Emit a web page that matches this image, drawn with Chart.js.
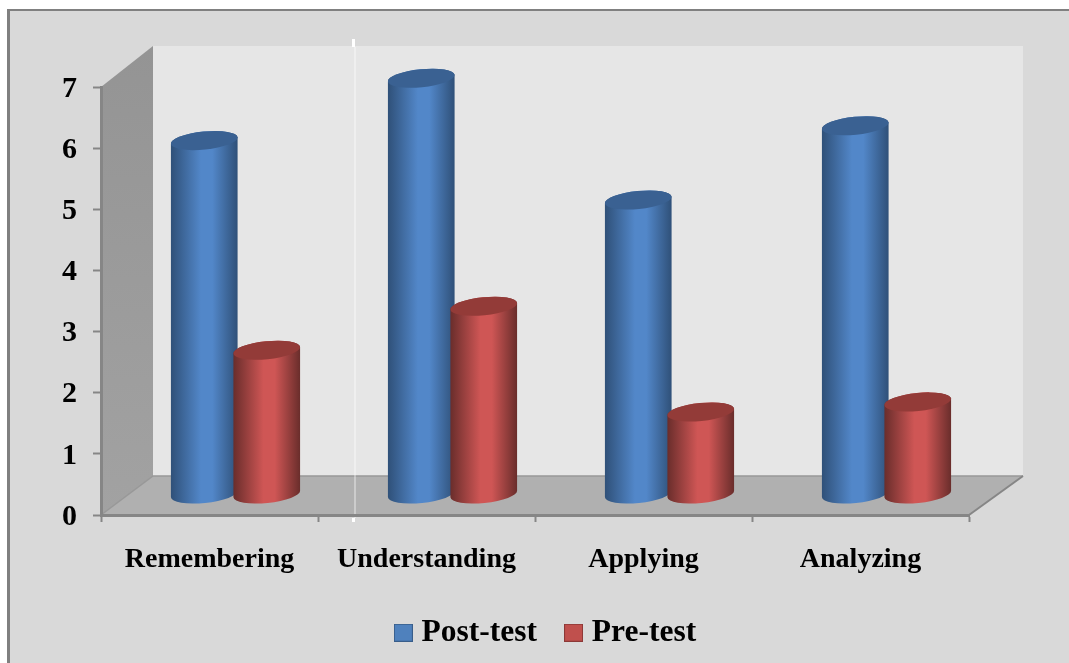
<!DOCTYPE html>
<html>
<head>
<meta charset="utf-8">
<style>
  html, body { margin: 0; padding: 0; background: #fff; }
  canvas { display: block; }
</style>
<script src="https://cdn.jsdelivr.net/npm/chart.js@4"></script>
</head>
<body>
<canvas id="grafica" width="1069" height="663"></canvas>
<script>
// datos
const categorias = ["Remembering", "Understanding", "Applying", "Analyzing"];
const postTest = [5.95, 7, 4.95, 6.2];
const preTest = [2.42, 3.16, 1.38, 1.55];
const ticksY = [0, 1, 2, 3, 4, 5, 6, 7];

const FUENTE = "'Liberation Serif', serif";
const EJE = "#868686";

// colores del cilindro segun la serie
const tonos = {
    "#4f81bd": { borde: "#2f5078", medio: "#5287c9", tapa: "#3a6192" },
    "#c0504d": { borde: "#692d2b", medio: "#cf5655", tapa: "#933b38" }
};

// cuadrito de la leyenda, se dibuja aparte para que quede pegado al texto
function iconoLeyenda(relleno, linea) {
    const c = document.createElement("canvas");
    c.width = 19;
    c.height = 18;
    const x = c.getContext("2d");
    x.fillStyle = relleno;
    x.fillRect(0, 0, 19, 18);
    x.strokeStyle = linea;
    x.lineWidth = 1;
    x.strokeRect(0.5, 0.5, 18, 17);
    return c;
}
const iconos = [iconoLeyenda("#4f81bd", "#385d8a"), iconoLeyenda("#c0504d", "#8c3836")];

// =======================================================
// PAREDES, PISO Y MARCO
// =======================================================
function poligono(ctx, puntos, color) {
    ctx.beginPath();
    puntos.forEach((p, i) => i ? ctx.lineTo(p[0], p[1]) : ctx.moveTo(p[0], p[1]));
    ctx.closePath();
    ctx.fillStyle = color;
    ctx.fill();
}

const fondo3d = {
    id: "fondo3d",
    afterLayout(chart) {
        // la leyenda va a la derecha del centro, como en el original
        chart.legend.left += 64;
        chart.legend.right += 64;
        chart.legend.top = 583;
        // los numeros del eje quedan un poco mas abajo que la marca
        chart.scales.y.getLabelItems().forEach(item => {
            const t = item.options.translation;
            item.options.translation = [t[0], t[1] + 2];
        });
    },
    beforeDraw(chart) {
        const ctx = chart.ctx;
        ctx.save();
        ctx.fillStyle = "#808080";
        ctx.fillRect(7, 9, 1062, 654);
        ctx.fillStyle = "#d9d9d9";
        ctx.fillRect(10, 11, 1059, 652);

        poligono(ctx, [[153, 46], [1023, 46], [1023, 476], [153, 476]], "#e6e6e6");

        const pared = ctx.createLinearGradient(0, 46, 0, 515);
        pared.addColorStop(0, "#949494");
        pared.addColorStop(1, "#a2a2a2");
        poligono(ctx, [[101, 87], [153, 46], [153, 476], [101, 515]], pared);
        poligono(ctx, [[101, 515], [153, 476], [1023, 476], [969, 515]], "#b0b0b0");

        ctx.strokeStyle = "#989898";
        ctx.lineWidth = 1.5;
        ctx.beginPath();
        ctx.moveTo(101, 515);
        ctx.lineTo(153, 476);
        ctx.lineTo(1023, 476);
        ctx.stroke();
        ctx.strokeStyle = EJE;
        ctx.lineWidth = 2;
        ctx.beginPath();
        ctx.moveTo(969, 515);
        ctx.lineTo(1023, 476);
        ctx.stroke();

        // linea blanca que trae la imagen original
        ctx.fillStyle = "#fff";
        ctx.fillRect(352, 39, 3, 8);
        ctx.fillRect(352, 518, 3, 4);
        ctx.fillStyle = "rgba(255,255,255,0.7)";
        ctx.fillRect(354.5, 47, 1, 471);
        ctx.restore();
    }
};

// =======================================================
// CILINDROS (usan la posicion que calcula cada barra)
// =======================================================
function dibujarCilindro(ctx, barra, hexa) {
    const tono = tonos[hexa];
    const rx = barra.width / 2;
    const ry = 9;
    const giro = -0.1;
    const izq = barra.x - rx;

    const grad = ctx.createLinearGradient(izq, 0, izq + barra.width, 0);
    grad.addColorStop(0, tono.borde);
    grad.addColorStop(0.45, tono.medio);
    grad.addColorStop(0.62, tono.medio);
    grad.addColorStop(1, tono.borde);

    ctx.beginPath();
    ctx.ellipse(barra.x, barra.base, rx, ry, giro, Math.PI, 0, true);
    ctx.ellipse(barra.x, barra.y, rx, ry, giro, 0, Math.PI, true);
    ctx.closePath();
    ctx.fillStyle = grad;
    ctx.fill();

    ctx.beginPath();
    ctx.ellipse(barra.x, barra.y, rx, ry, giro, 0, Math.PI * 2);
    ctx.fillStyle = tono.tapa;
    ctx.fill();
}

const cilindros = {
    id: "cilindros",
    // se cancela el rectangulo normal de la barra
    beforeDatasetDraw() {
        return false;
    },
    afterDatasetsDraw(chart) {
        const ctx = chart.ctx;
        ctx.save();
        // profundidad: las barras van hacia el fondo del piso
        ctx.translate(26, 0);
        chart.data.datasets.forEach((ds, i) => {
            chart.getDatasetMeta(i).data.forEach(barra => {
                dibujarCilindro(ctx, barra, ds.backgroundColor);
            });
        });
        ctx.restore();
    }
};

// =======================================================
// GRAFICA
// =======================================================
new Chart(document.getElementById("grafica"), {
    type: "bar",
    data: {
        labels: categorias,
        datasets: [
            { label: "Post-test", data: postTest, backgroundColor: "#4f81bd", yAxisID: "yBarras", clip: false },
            { label: "Pre-test", data: preTest, backgroundColor: "#c0504d", yAxisID: "yBarras", clip: false }
        ]
    },
    options: {
        responsive: false,
        animation: false,
        categoryPercentage: 0.576,
        barPercentage: 1.072,
        layout: { padding: { top: 87, right: 100, left: 0, bottom: 0 } },
        plugins: {
            tooltip: { enabled: false },
            legend: {
                position: "bottom",
                onClick: null,
                labels: {
                    color: "#000",
                    font: { family: FUENTE, size: 31.5, weight: "bold" },
                    padding: 34,
                    usePointStyle: true,
                    pointStyleWidth: 5,
                    generateLabels(chart) {
                        return Chart.defaults.plugins.legend.labels.generateLabels(chart)
                            .map((item, i) => Object.assign(item, { pointStyle: iconos[i] }));
                    }
                }
            }
        },
        scales: {
            x: {
                afterFit(s) { s.height = 148 - s.chart.legend.height; },
                border: { color: EJE, width: 3 },
                grid: { drawOnChartArea: false, color: EJE, tickColor: EJE, tickLength: 7, tickWidth: 2 },
                ticks: {
                    color: "#000",
                    padding: 21,
                    maxRotation: 0,
                    font: { family: FUENTE, size: 28, weight: "bold" }
                }
            },
            y: {
                min: 0,
                max: 7,
                afterFit(s) { s.width = 101; },
                afterBuildTicks(s) { s.ticks = ticksY.map(v => ({ value: v })); },
                border: { color: EJE, width: 3 },
                grid: { drawOnChartArea: false, color: EJE, tickColor: EJE, tickLength: 8, tickWidth: 2 },
                ticks: {
                    color: "#000",
                    padding: 16,
                    font: { family: FUENTE, size: 30, weight: "bold" }
                }
            },
            // escala de las barras: el piso 3d queda mas arriba que el eje visible
            yBarras: {
                display: false,
                min: -0.3535,
                max: 6.852
            }
        }
    },
    plugins: [fondo3d, cilindros]
});
</script>
</body>
</html>
